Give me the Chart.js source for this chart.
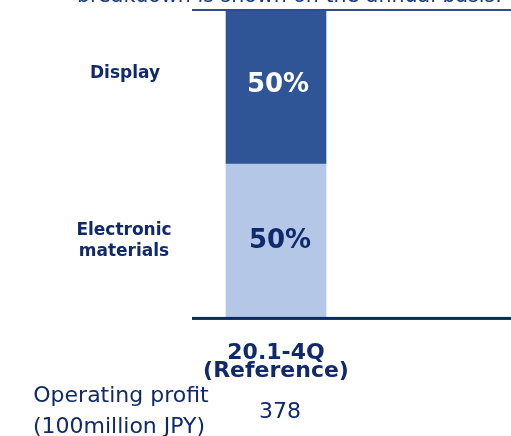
<!DOCTYPE html>
<html>
<head>
<meta charset="utf-8">
<script src="https://cdn.jsdelivr.net/npm/chart.js@4/dist/chart.umd.min.js"></script>
<style>
html,body{margin:0;padding:0;background:#fff;overflow:hidden;}
#wrap{position:relative;width:511px;height:436px;}
</style>
</head>
<body>
<div id="wrap"><canvas id="c" width="511" height="436"></canvas></div>
<script>
const categories = [['20.1-4Q', '(Reference)']];
const segmentNames = ['Electronic materials', 'Display'];
const electronicShare = [50];
const displayShare = [50];
const operatingProfit = [378];
const headerText = 'breakdown is shown on the annual basis.';

const NAVY = '#10296a';
const FONT = "'DejaVu Sans', Verdana, sans-serif";

const deco = {
  id: 'deco',
  afterDatasetsDraw(chart) {
    const ctx = chart.ctx;
    const x = chart.scales.x, y = chart.scales.y;
    const W = chart.width;
    ctx.save();
    // header text (cut off at top)
    ctx.fillStyle = '#1d3a7a';
    ctx.font = '20.6px ' + FONT;
    ctx.textAlign = 'left';
    ctx.textBaseline = 'alphabetic';
    ctx.fillText(headerText, 77, 2);
    // horizontal rules
    const lineLeft = x.left;
    ctx.fillStyle = '#2c4d8e';
    ctx.fillRect(lineLeft, y.getPixelForValue(100) - 2, W - lineLeft, 2);
    ctx.fillStyle = '#0b2a62';
    ctx.fillRect(lineLeft, y.getPixelForValue(0), W - lineLeft, 3);

    const cx = x.getPixelForValue(0);
    // percent labels
    ctx.textAlign = 'center';
    ctx.textBaseline = 'middle';
    ctx.font = 'bold 26px ' + FONT;
    const eMid = y.getPixelForValue(electronicShare[0] / 2);
    const dMid = y.getPixelForValue(electronicShare[0] + displayShare[0] / 2);
    ctx.fillStyle = '#ffffff';
    ctx.fillText(displayShare[0] + '%', cx + 2, dMid - 2);
    ctx.fillStyle = NAVY;
    ctx.fillText(electronicShare[0] + '%', cx + 4, eMid + 1);

    // segment names at left
    ctx.font = 'bold 17px ' + FONT;
    ctx.fillStyle = NAVY;
    ctx.fillText(segmentNames[1], 125, dMid - 14);
    ctx.fillText('Electronic', 124, eMid - 10);
    ctx.fillText('materials', 124, eMid + 11);

    // operating profit row
    ctx.font = '22px ' + FONT;
    ctx.fillStyle = NAVY;
    ctx.fillText('Operating profit', 121, 396);
    ctx.fillText('(100million JPY)', 119, 427);
    ctx.fillText(String(operatingProfit[0]), cx + 4, 412);
    ctx.restore();
  }
};

new Chart(document.getElementById('c'), {
  type: 'bar',
  data: {
    labels: categories,
    datasets: [
      { label: segmentNames[0], data: electronicShare, backgroundColor: '#b4c7e7', borderWidth: 0 },
      { label: segmentNames[1], data: displayShare, backgroundColor: '#2f5597', borderWidth: 0 }
    ]
  },
  options: {
    responsive: false,
    animation: false,
    devicePixelRatio: 1,
    layout: { padding: { top: 11, left: 192, right: 151, bottom: 37 } },
    plugins: { legend: { display: false }, tooltip: { enabled: false }, title: { display: false } },
    datasets: { bar: { barThickness: 100 } },
    scales: {
      x: {
        stacked: true,
        grid: { display: false },
        border: { display: false },
        ticks: {
          padding: 19,
          color: NAVY,
          font: { family: FONT, size: 22, weight: 'bold', lineHeight: 0.82 }
        }
      },
      y: {
        display: false,
        stacked: true,
        min: 0,
        max: 100
      }
    }
  },
  plugins: [deco]
});
</script>
</body>
</html>
